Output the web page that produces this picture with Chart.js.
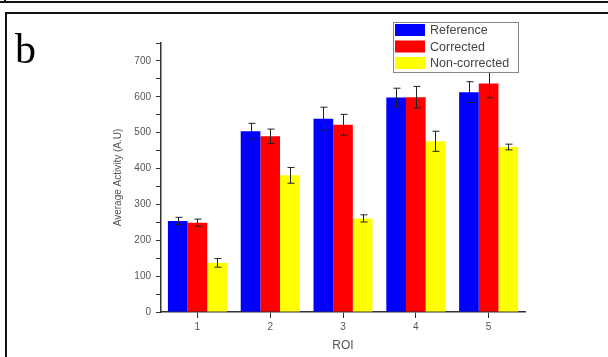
<!DOCTYPE html>
<html>
<head>
<meta charset="utf-8">
<script src="https://cdn.jsdelivr.net/npm/chart.js@4"></script>
<style>
  body { margin: 0; background: #fff; }
  #wrap { position: relative; width: 608px; height: 357px; overflow: hidden; }
  #canvas { position: absolute; left: 0; top: 0; }
  .line { position: absolute; background: #111; }
  #letter { position: absolute; left: 15px; top: 25px; font-family: "Liberation Serif", serif; font-size: 42px; color: #000; }
</style>
</head>
<body>
<div id="wrap">
  <canvas id="canvas" width="608" height="357"></canvas>
  <div class="line" style="left:0;top:1px;width:608px;height:2px"></div>
  <div class="line" style="left:4px;top:0;width:2px;height:3px"></div>
  <div class="line" style="left:5px;top:12px;width:603px;height:2px"></div>
  <div class="line" style="left:5px;top:12px;width:2px;height:345px"></div>
  <div id="letter">b</div>
</div>
<script>
var categories = ['1', '2', '3', '4', '5'];
var seriesNames = ['Reference', 'Corrected', 'Non-corrected'];
var referenceData = [254, 504, 539, 598, 613];
var correctedData = [249, 490, 522, 599, 637];
var nonCorrectedData = [137, 381, 261, 476, 460];
var referenceErr = [10, 22, 32, 26, 29];
var correctedErr = [10, 20, 29, 30, 40];
var nonCorrectedErr = [12, 22, 10, 28, 8];
var yTicks = [0, 100, 200, 300, 400, 500, 600, 700];

// error bars drawn on top of each bar
const errorBars = {
    id: 'errorBars',
    afterDatasetsDraw(chart) {
        const ctx = chart.ctx;
        const y = chart.scales.y;
        ctx.save();
        ctx.strokeStyle = '#222';
        ctx.lineWidth = 1;
        chart.data.datasets.forEach((ds, i) => {
            const meta = chart.getDatasetMeta(i);
            meta.data.forEach((bar, j) => {
                const v = ds.data[j], e = ds.err[j];
                const top = y.getPixelForValue(v + e);
                const bot = y.getPixelForValue(v - e);
                const x = Math.round(bar.x) + 0.5;
                ctx.beginPath();
                ctx.moveTo(x, top); ctx.lineTo(x, bot);
                ctx.moveTo(x - 3, top); ctx.lineTo(x + 4, top);
                ctx.moveTo(x - 3, bot); ctx.lineTo(x + 4, bot);
                ctx.stroke();
            });
        });
        ctx.restore();
    }
};

// boxed legend inside the plot, top right
const boxLegend = {
    id: 'boxLegend',
    afterDraw(chart) {
        const ctx = chart.ctx;
        const x0 = 393, y0 = 22, w = 125, h = 50;
        ctx.save();
        ctx.fillStyle = '#fff';
        ctx.fillRect(x0, y0, w, h);
        ctx.strokeStyle = '#888';
        ctx.lineWidth = 1;
        ctx.strokeRect(x0 + 0.5, y0 + 0.5, w, h);
        ctx.font = '12.5px "Liberation Sans", Arial, sans-serif';
        ctx.textBaseline = 'middle';
        chart.data.datasets.forEach((ds, i) => {
            const ry = y0 + 2 + i * 16.5;
            ctx.fillStyle = ds.backgroundColor;
            ctx.fillRect(x0 + 2, ry, 30, 12);
            ctx.fillStyle = '#444';
            ctx.fillText(ds.label, x0 + 37, ry + 7);
        });
        ctx.restore();
    }
};

const canvas = document.getElementById('canvas');
const data = {
    labels: categories,
    datasets: [
        { label: seriesNames[0], data: referenceData, err: referenceErr, backgroundColor: '#0000ff' },
        { label: seriesNames[1], data: correctedData, err: correctedErr, backgroundColor: '#ff0000' },
        { label: seriesNames[2], data: nonCorrectedData, err: nonCorrectedErr, backgroundColor: '#ffff00' }
    ]
};
const options = {
    responsive: false,
    animation: false,
    layout: { padding: { left: 100, right: 83, top: 43, bottom: 0 } },
    categoryPercentage: 0.81,
    barPercentage: 1.0,
    plugins: { legend: { display: false }, tooltip: { enabled: false } },
    scales: {
        x: {
            offset: true,
            afterFit: s => { s.height = 45; },
            grid: { offset: false, drawOnChartArea: false, tickLength: 6, color: '#333' },
            border: { color: '#333', width: 1.5 },
            ticks: { color: '#555', font: { size: 10, family: 'Liberation Sans' }, padding: 3 },
            title: { display: true, text: 'ROI', color: '#555', font: { size: 12, family: 'Liberation Sans' }, padding: { top: 2, bottom: 4 } }
        },
        y: {
            min: 0,
            max: 750,
            afterFit: s => { s.width = 61; },
            afterBuildTicks: s => { s.ticks = yTicks.concat([50, 150, 250, 350, 450, 550, 650, 750]).sort((a, b) => a - b).map(v => ({ value: v })); },
            grid: { drawOnChartArea: false, tickLength: 5, color: '#333' },
            border: { color: '#333', width: 1.5 },
            ticks: {
                color: '#555',
                font: { size: 10, family: 'Liberation Sans' },
                padding: 5,
                callback: v => yTicks.includes(v) ? String(v) : ''
            },
            title: { display: true, text: 'Average Activity (A.U)', color: '#555', font: { size: 10, family: 'Liberation Sans' }, padding: { top: 12, bottom: 4 } }
        }
    }
};
const chart = new Chart(canvas, { type: 'bar', data: data, options: options, plugins: [errorBars, boxLegend] });
</script>
</body>
</html>
